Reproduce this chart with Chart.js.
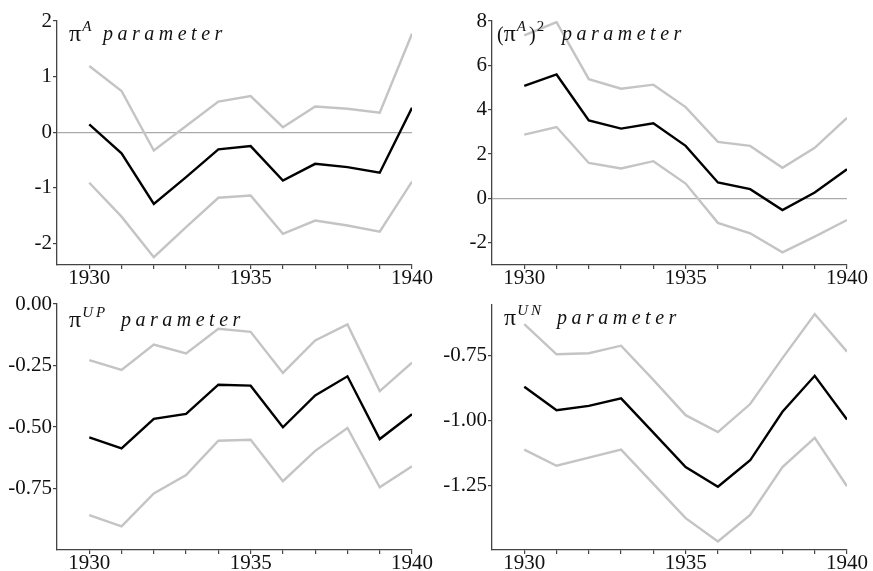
<!DOCTYPE html>
<html lang="en">
<head>
  <meta charset="UTF-8">
  <title>Parameter paths 1930-1940</title>
  <script src="https://cdn.jsdelivr.net/npm/chart.js"></script>
  <style>
    html, body {
      margin: 0;
      padding: 0;
      background: #fff;
      overflow: hidden;
    }
    body {
      width: 873px;
      height: 571px;
      position: relative;
      font-family: "Liberation Serif", "DejaVu Serif", serif;
    }
    .panel {
      position: absolute;
    }
    .title {
      position: absolute;
      font-size: 20px;
      line-height: 20px;
      color: #111;
      white-space: nowrap;
    }
    .title .pi {
      font-size: 24px;
    }
    .title .sup {
      position: relative;
      top: -10px;
      font-size: 15px;
      font-style: italic;
      letter-spacing: 3px;
      margin-left: 1px;
    }
    .title .sup.up {
      font-style: normal;
    }
    .title.word {
      font-style: italic;
      letter-spacing: 4.5px;
    }
  </style>
</head>
<body>
  <div class="panel" style="left:0;top:0"><canvas id="c1" width="436" height="300"></canvas></div>
  <div class="panel" style="left:435px;top:0"><canvas id="c2" width="438" height="300"></canvas></div>
  <div class="panel" style="left:0;top:285px"><canvas id="c3" width="436" height="286"></canvas></div>
  <div class="panel" style="left:435px;top:285px"><canvas id="c4" width="438" height="286"></canvas></div>

  <div class="title" style="left:69px;top:23px"><span class="pi">π</span><span class="sup">A</span></div>
  <div class="title word" style="left:103px;top:23px">parameter</div>

  <div class="title" style="left:497px;top:23px">(<span class="pi">π</span><span class="sup">A</span>)<span class="sup up">2</span></div>
  <div class="title word" style="left:562px;top:23px">parameter</div>

  <div class="title" style="left:69px;top:309px"><span class="pi">π</span><span class="sup">UP</span></div>
  <div class="title word" style="left:121px;top:309px">parameter</div>

  <div class="title" style="left:504px;top:307px"><span class="pi">π</span><span class="sup">UN</span></div>
  <div class="title word" style="left:557px;top:307px">parameter</div>

  <script>
    const years = [1930, 1931, 1932, 1933, 1934, 1935, 1936, 1937, 1938, 1939, 1940];
    const xLabels = [1930, 1935, 1940];

    // pi^A
    const piA_mean  = [0.14, -0.38, -1.29, -0.81, -0.31, -0.25, -0.87, -0.57, -0.63, -0.73, 0.44];
    const piA_upper = [1.19, 0.74, -0.33, 0.11, 0.55, 0.65, 0.09, 0.46, 0.42, 0.35, 1.77];
    const piA_lower = [-0.91, -1.52, -2.25, -1.71, -1.18, -1.14, -1.83, -1.59, -1.68, -1.79, -0.89];
    const piA_ticks = [-2, -1, 0, 1, 2];

    // (pi^A)^2
    const piA2_mean  = [5.08, 5.59, 3.52, 3.15, 3.39, 2.37, 0.72, 0.42, -0.52, 0.27, 1.32];
    const piA2_upper = [7.35, 7.95, 5.38, 4.95, 5.13, 4.12, 2.55, 2.37, 1.38, 2.28, 3.63];
    const piA2_lower = [2.88, 3.22, 1.60, 1.35, 1.68, 0.67, -1.10, -1.57, -2.43, -1.72, -0.97];
    const piA2_ticks = [-2, 0, 2, 4, 6, 8];

    // pi^UP
    const piUP_mean  = [-0.542, -0.587, -0.467, -0.447, -0.328, -0.332, -0.501, -0.372, -0.294, -0.549, -0.448];
    const piUP_upper = [-0.228, -0.268, -0.165, -0.201, -0.101, -0.113, -0.280, -0.148, -0.083, -0.354, -0.238];
    const piUP_lower = [-0.858, -0.904, -0.770, -0.695, -0.556, -0.552, -0.720, -0.597, -0.504, -0.745, -0.660];
    const piUP_ticks = [-0.75, -0.5, -0.25, 0];

    // pi^UN
    const piUN_mean  = [-0.870, -0.961, -0.944, -0.915, -1.047, -1.180, -1.256, -1.154, -0.967, -0.828, -0.997];
    const piUN_upper = [-0.629, -0.745, -0.741, -0.712, -0.844, -0.980, -1.045, -0.937, -0.760, -0.590, -0.735];
    const piUN_lower = [-1.113, -1.175, -1.144, -1.113, -1.245, -1.377, -1.467, -1.365, -1.180, -1.067, -1.254];
    const piUN_ticks = [-1.25, -1, -0.75];

    const FONT = { family: '"Liberation Serif", "DejaVu Serif", serif', size: 21 };
    const AXIS = '#444';

    function pts(arr) {
      return years.map((y, i) => ({ x: y, y: arr[i] }));
    }

    // xh = height kept for the x axis so that the plot bottom sits at y=265 in each canvas
    function makePanel(id, lower, mean, upper, yMin, yMax, yTicks, digits, zero, pad, xh) {
      return new Chart(document.getElementById(id), {
        type: 'line',
        data: {
          datasets: [
            { data: pts(lower), borderColor: '#c4c4c4', borderWidth: 2.4 },
            { data: pts(upper), borderColor: '#c4c4c4', borderWidth: 2.4 },
            { data: pts(mean), borderColor: '#000', borderWidth: 2.4 }
          ]
        },
        options: {
          responsive: false,
          animation: false,
          events: [],
          elements: { point: { radius: 0 }, line: { tension: 0 } },
          layout: { padding: pad },
          plugins: { legend: { display: false }, tooltip: { enabled: false } },
          scales: {
            x: {
              type: 'linear',
              min: 1929,
              max: 1940,
              afterBuildTicks: s => { s.ticks = years.map(v => ({ value: v })); },
              afterFit: s => { s.height = xh; },
              ticks: {
                autoSkip: false,
                maxRotation: 0,
                padding: -3,
                color: '#111',
                font: FONT,
                callback: v => xLabels.includes(v) ? String(v) : ''
              },
              grid: { drawOnChartArea: false, tickLength: 4, tickColor: AXIS, lineWidth: 1.2 },
              border: { color: AXIS, width: 1.3 }
            },
            y: {
              min: yMin,
              max: yMax,
              afterBuildTicks: s => { s.ticks = yTicks.map(v => ({ value: v })); },
              afterFit: s => { s.width = 57; },
              ticks: {
                padding: 1,
                color: '#111',
                font: FONT,
                callback: v => v.toFixed(digits)
              },
              grid: {
                drawOnChartArea: zero,
                tickLength: 4,
                tickColor: AXIS,
                lineWidth: 1.2,
                color: ctx => (ctx.tick && ctx.tick.value === 0) ? '#aaa' : 'rgba(0,0,0,0)'
              },
              border: { color: AXIS, width: 1.3 }
            }
          }
        }
      });
    }

    makePanel('c1', piA_lower, piA_mean, piA_upper, -2.39, 2, piA_ticks, 0, true, { top: 21, right: 24, left: 0, bottom: 0 }, 35);
    makePanel('c2', piA2_lower, piA2_mean, piA2_upper, -3, 8, piA2_ticks, 0, true, { top: 21, right: 26, left: 0, bottom: 0 }, 35);
    makePanel('c3', piUP_lower, piUP_mean, piUP_upper, -1.0, 0, piUP_ticks, 2, false, { top: 19, right: 24, left: 0, bottom: 0 }, 21);
    makePanel('c4', piUN_lower, piUN_mean, piUN_upper, -1.5, -0.555, piUN_ticks, 2, false, { top: 20, right: 26, left: 0, bottom: 0 }, 21);
  </script>
</body>
</html>
